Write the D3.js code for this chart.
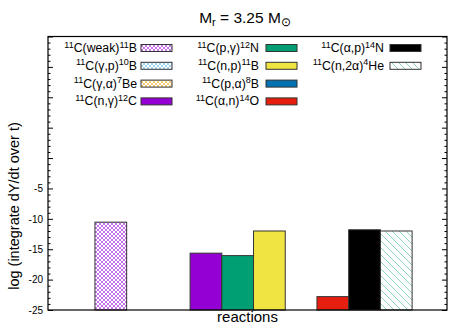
<!DOCTYPE html>
<html>
<head>
<meta charset="utf-8">
<script src="https://cdn.jsdelivr.net/npm/d3@7"></script>
<style>
  body { margin: 0; background: #fff; }
  text { font-family: "Liberation Sans", Arial, sans-serif; fill: #000; }
</style>
</head>
<body>
<svg id="chart" width="463" height="324"></svg>
<script>
// reactions, in legend order (column by column)
var reactionPre = ["11", "11", "11", "11", "11", "11", "11", "11", "11", "11"];
var reactionMid = ["C(weak)", "C(\u03b3,p)", "C(\u03b3,\u03b1)", "C(n,\u03b3)", "C(p,\u03b3)",
                   "C(n,p)", "C(p,\u03b1)", "C(\u03b1,n)", "C(\u03b1,p)", "C(n,2\u03b1)"];
var productMass = ["11", "10", "7", "12", "12", "11", "8", "14", "14", "4"];
var productName = ["B", "B", "Be", "C", "N", "B", "B", "O", "N", "He"];
// log of integrated dY/dt (null = below the plotted range)
var logValues = [-10.55, null, null, -15.65, -16.05, -12.0, null, -22.8, -11.8, -12.0];
var colors = ["#9400d3", "#56b4e9", "#e69f00", "#9400d3", "#009e73",
              "#f0e442", "#0072b2", "#e51e10", "#000000", "#009e73"];
var fills = ["cross", "cross", "cross", "solid", "solid", "solid", "solid", "solid", "solid", "hatch"];
var yMajor = [-25, -20, -15, -10, -5, 0, 5, 10, 15, 20];
var yLabels = [-25, -20, -15, -10, -5];

var svg = d3.select("#chart");
var plotL = 48, plotR = 447, plotT = 36.5, plotB = 310;

var y = d3.scaleLinear().domain([-25, 20]).range([plotB, plotT]);
var x = d3.scaleLinear().domain([-1.48, 11.1]).range([plotL, plotR]);

// fill patterns
var defs = svg.append("defs");
colors.forEach(function(c, i) {
    if (fills[i] == "cross") {
        var p = defs.append("pattern").attr("id", "pat" + i)
            .attr("patternUnits", "userSpaceOnUse").attr("width", 4).attr("height", 4);
        p.append("rect").attr("width", 4).attr("height", 4).attr("fill", "#fff");
        p.append("path").attr("d", "M0,0L4,4M4,0L0,4M-1,3L1,5M3,-1L5,1M-1,1L1,-1M3,5L5,3")
            .attr("stroke", c).attr("stroke-width", 0.9).attr("stroke-opacity", 0.62);
    } else if (fills[i] == "hatch") {
        var p = defs.append("pattern").attr("id", "pat" + i)
            .attr("patternUnits", "userSpaceOnUse").attr("width", 7).attr("height", 7);
        p.append("rect").attr("width", 7).attr("height", 7).attr("fill", "#fff");
        p.append("path").attr("d", "M0,0L7,7M-1,6L1,8M6,-1L8,1")
            .attr("stroke", c).attr("stroke-width", 1).attr("stroke-opacity", 0.45);
    }
});
function fillOf(i) { return fills[i] == "solid" ? colors[i] : "url(#pat" + i + ")"; }

// bars
var bw = x(1) - x(0);
svg.append("g").selectAll("rect")
    .data(logValues.map(function(v, i) { return { v: v, i: i }; }).filter(function(d) { return d.v != null; }))
  .enter().append("rect")
    .attr("x", function(d) { return x(d.i); })
    .attr("y", function(d) { return y(d.v); })
    .attr("width", bw)
    .attr("height", function(d) { return plotB - y(d.v); })
    .attr("fill", function(d) { return fillOf(d.i); })
    .attr("stroke", "#333")
    .attr("stroke-width", 1);

// axes (ticks inward, mirrored on the right)
var yMinor = d3.range(-25, 21).filter(function(v) { return v % 5 != 0; });
function styleAxis(g) {
    g.select(".domain").remove();
    g.selectAll("line").attr("stroke", "#000");
    g.selectAll("text").style("font-size", "10px").attr("fill", "#000");
}
svg.append("g").attr("transform", "translate(" + plotL + ",0)")
    .call(d3.axisLeft(y).tickValues(yMajor).tickSizeInner(-5).tickSizeOuter(0).tickPadding(5)
        .tickFormat(function(v) { return yLabels.indexOf(v) >= 0 ? v : ""; }))
    .call(styleAxis);
svg.append("g").attr("transform", "translate(" + plotL + ",0)")
    .call(d3.axisLeft(y).tickValues(yMinor).tickSizeInner(-2.5).tickSizeOuter(0).tickFormat(""))
    .call(styleAxis);
svg.append("g").attr("transform", "translate(" + plotR + ",0)")
    .call(d3.axisRight(y).tickValues(yMajor).tickSizeInner(-5).tickSizeOuter(0).tickFormat(""))
    .call(styleAxis);
svg.append("g").attr("transform", "translate(" + plotR + ",0)")
    .call(d3.axisRight(y).tickValues(yMinor).tickSizeInner(-2.5).tickSizeOuter(0).tickFormat(""))
    .call(styleAxis);

// frame
svg.append("rect").attr("x", plotL).attr("y", plotT)
    .attr("width", plotR - plotL).attr("height", plotB - plotT)
    .attr("fill", "none").attr("stroke", "#000").attr("stroke-width", 1.2);

// title
var title = svg.append("text").attr("x", 245).attr("y", 23).attr("text-anchor", "middle")
    .style("font-size", "15.5px");
title.append("tspan").text("M");
title.append("tspan").attr("dy", 3).style("font-size", "11px").text("r");
title.append("tspan").attr("dy", -3).text(" = 3.25 M");
title.append("tspan").attr("dy", 3).style("font-size", "12px").text("\u2299");

// axis titles
svg.append("text").attr("x", (plotL + plotR) / 2).attr("y", 322).attr("text-anchor", "middle")
    .style("font-size", "15px").text("reactions");
svg.append("text").attr("transform", "translate(19,206) rotate(-90)").attr("text-anchor", "middle")
    .style("font-size", "14.5px").text("log (integrate dY/dt over t)");

// legend
var colText = [137, 259, 384];
var colBox = [141, 266, 390];
var rowY = [47.5, 65.3, 83.1, 100.9];
logValues.forEach(function(v, i) {
    var col = Math.floor(i / 4), row = i % 4;
    var t = svg.append("text").attr("x", colText[col]).attr("y", rowY[row] + 4.5)
        .attr("text-anchor", "end").style("font-size", "12.3px");
    t.append("tspan").attr("dy", -4.5).style("font-size", "9px").text(reactionPre[i]);
    t.append("tspan").attr("dy", 4.5).text(reactionMid[i]);
    t.append("tspan").attr("dy", -4.5).style("font-size", "9px").text(productMass[i]);
    t.append("tspan").attr("dy", 4.5).text(productName[i]);
    svg.append("rect").attr("x", colBox[col]).attr("y", rowY[row] - 3)
        .attr("width", 31).attr("height", 7)
        .attr("fill", fillOf(i)).attr("stroke", "#333").attr("stroke-width", 1);
});
</script>
</body>
</html>
